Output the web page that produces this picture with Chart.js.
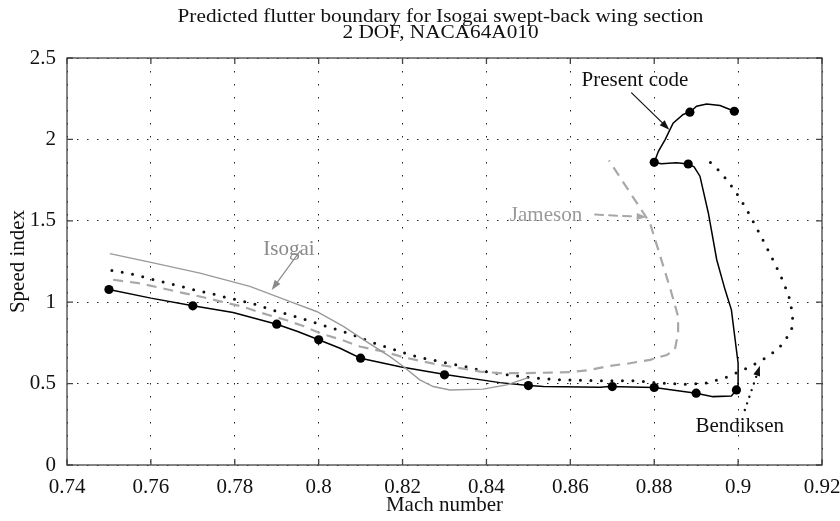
<!DOCTYPE html>
<html>
<head>
<meta charset="utf-8">
<title>Predicted flutter boundary</title>
<script src="https://cdn.jsdelivr.net/npm/chart.js@4.4.0/dist/chart.umd.min.js"></script>
<style>
    html, body { margin: 0; padding: 0; background: #fff; }
    #wrap { width: 840px; height: 521px; }
</style>
</head>
<body>
<div id="wrap"><canvas id="flutterChart" width="840" height="521"></canvas></div>
<script>
// Speed index vs Mach number
const xTicks = [0.74, 0.76, 0.78, 0.8, 0.82, 0.84, 0.86, 0.88, 0.9, 0.92];
const yTicks = [0, 0.5, 1, 1.5, 2, 2.5];
const titleLines = ['Predicted flutter boundary for Isogai swept-back wing section', '2 DOF, NACA64A010'];

// present code (solid black line, dots at computed points)
const presentMach = [0.75, 0.76, 0.77, 0.7796, 0.79, 0.795, 0.80, 0.8051, 0.81, 0.8194, 0.8305, 0.8432, 0.85, 0.8536,
    0.8671, 0.8693, 0.88, 0.89, 0.894, 0.8984, 0.8996, 0.90, 0.90, 0.8992, 0.8984, 0.8969, 0.8949, 0.8929, 0.8909,
    0.8895, 0.8881, 0.8853, 0.8817, 0.88, 0.881, 0.8826, 0.8845, 0.8869, 0.8885, 0.8901, 0.8925, 0.8957, 0.8991];
const presentSpeed = [1.078, 1.025, 0.978, 0.937, 0.865, 0.82, 0.769, 0.717, 0.656, 0.603, 0.554, 0.506, 0.488, 0.482,
    0.478, 0.482, 0.476, 0.441, 0.42, 0.424, 0.461, 0.492, 0.625, 0.789, 0.953, 1.076, 1.261, 1.548, 1.774,
    1.831, 1.849, 1.856, 1.851, 1.859, 1.927, 1.999, 2.1, 2.153, 2.167, 2.204, 2.218, 2.208, 2.173];
const presentMarkMach = [0.75, 0.77, 0.79, 0.80, 0.81, 0.83, 0.85, 0.87, 0.88, 0.89, 0.8996, 0.8881, 0.88, 0.8885, 0.8991];
const presentMarkSpeed = [1.078, 0.978, 0.865, 0.769, 0.656, 0.554, 0.488, 0.482, 0.476, 0.441, 0.461, 1.849, 1.859, 2.167, 2.173];

// Bendiksen (dotted black)
const bendMach = [0.7507, 0.7554, 0.7602, 0.765, 0.7697, 0.7745, 0.7793, 0.784, 0.7888, 0.7936, 0.7983, 0.8027,
    0.8075, 0.8122, 0.817, 0.8218, 0.8261, 0.8309, 0.8357, 0.8404, 0.8452, 0.85, 0.8575, 0.8671, 0.875, 0.8821,
    0.8869, 0.8921, 0.8966, 0.9012, 0.9056, 0.9096, 0.9126, 0.9131, 0.9125, 0.9108, 0.9087, 0.9065, 0.9042,
    0.9018, 0.8991, 0.896, 0.8925];
const bendSpeed = [1.195, 1.173, 1.142, 1.111, 1.08, 1.052, 1.021, 0.994, 0.953, 0.918, 0.881, 0.845,
    0.806, 0.758, 0.717, 0.677, 0.65, 0.625, 0.601, 0.57, 0.554, 0.538, 0.523, 0.518, 0.518, 0.502,
    0.496, 0.502, 0.533, 0.584, 0.642, 0.713, 0.816, 0.877, 1.004, 1.125, 1.24, 1.353, 1.466,
    1.581, 1.691, 1.794, 1.88];

// Isogai (thin grey solid)
const isogaiMach = [0.7502, 0.76, 0.7717, 0.7836, 0.7932, 0.7995, 0.8059, 0.8114, 0.817, 0.8202, 0.8241,
    0.8273, 0.8313, 0.8392, 0.8448, 0.85];
const isogaiSpeed = [1.298, 1.245, 1.179, 1.097, 1.004, 0.943, 0.851, 0.758, 0.666, 0.605, 0.523,
    0.482, 0.461, 0.466, 0.492, 0.537];

// Jameson (grey dashed)
const jamesonMach = [0.751, 0.757, 0.762, 0.767, 0.7717, 0.7765, 0.7817, 0.7865, 0.792, 0.7965, 0.8003, 0.8059,
    0.8098, 0.8154, 0.8202, 0.825, 0.8289, 0.8337, 0.8385, 0.8432, 0.8496, 0.8551, 0.8599, 0.8647, 0.8694,
    0.8742, 0.879, 0.883, 0.8849, 0.8857, 0.8857, 0.8839, 0.879, 0.8692];
const jamesonSpeed = [1.138, 1.117, 1.09, 1.06, 1.035, 1.005, 0.974, 0.933, 0.892, 0.852, 0.81, 0.765,
    0.728, 0.697, 0.662, 0.635, 0.615, 0.595, 0.574, 0.564, 0.564, 0.568, 0.57, 0.584, 0.609,
    0.625, 0.646, 0.676, 0.707, 0.81, 0.912, 1.076, 1.486, 1.871];

// labels and arrows, in chart units
const notes = [
    { text: 'Present code', at: [0.8754, 2.327], color: '#111' },
    { text: 'Jameson', at: [0.8542, 1.496], color: '#9a9a9a' },
    { text: 'Isogai', at: [0.7929, 1.2915], color: '#8a8a8a' },
    { text: 'Bendiksen', at: [0.9004, 0.205], color: '#111' }
];
const arrows = [
    { from: [0.8746, 2.286], to: [0.8836, 2.06], color: '#111', width: 1.2, dash: [] },
    { from: [0.8659, 1.538], to: [0.8782, 1.523], color: '#a8a8a8', width: 2, dash: [8, 6] },
    { from: [0.7955, 1.312], to: [0.7888, 1.075], color: '#8a8a8a', width: 1.2, dash: [] },
    { from: [0.9016, 0.338], to: [0.9052, 0.609], color: '#111', width: 2.4, dash: [0, 7] }
];

const SERIF = "'Liberation Serif', 'Times New Roman', serif";

function pts(xs, ys) { return xs.map((x, i) => ({ x: x, y: ys[i] })); }

const annotate = {
    id: 'annotate',
    afterDatasetsDraw(chart) {
        const ctx = chart.ctx, sx = chart.scales.x, sy = chart.scales.y;
        const px = p => [sx.getPixelForValue(p[0]), sy.getPixelForValue(p[1])];
        ctx.save();

        // arrows
        arrows.forEach(a => {
            const [x0, y0] = px(a.from), [x1, y1] = px(a.to);
            const ang = Math.atan2(y1 - y0, x1 - x0);
            const hl = 10, hw = 3.5;
            const bx = x1 - hl * Math.cos(ang), by = y1 - hl * Math.sin(ang);
            ctx.strokeStyle = a.color;
            ctx.fillStyle = a.color;
            ctx.lineWidth = a.width;
            ctx.lineCap = 'round';
            ctx.setLineDash(a.dash);
            ctx.beginPath();
            ctx.moveTo(x0, y0);
            ctx.lineTo(bx, by);
            ctx.stroke();
            ctx.setLineDash([]);
            ctx.beginPath();
            ctx.moveTo(x1, y1);
            ctx.lineTo(bx - hw * Math.sin(ang), by + hw * Math.cos(ang));
            ctx.lineTo(bx + hw * Math.sin(ang), by - hw * Math.cos(ang));
            ctx.closePath();
            ctx.fill();
        });

        // text labels
        ctx.font = '21px ' + SERIF;
        ctx.textAlign = 'center';
        ctx.textBaseline = 'alphabetic';
        notes.forEach(n => {
            const [x, y] = px(n.at);
            ctx.fillStyle = n.color;
            ctx.fillText(n.text, x, y);
        });
        ctx.restore();
    },
    afterDraw(chart) {
        const ctx = chart.ctx, a = chart.chartArea, sx = chart.scales.x, sy = chart.scales.y;
        const len = 6;
        ctx.save();

        // frame and inward tick marks
        ctx.strokeStyle = '#444';
        ctx.lineWidth = 1.3;
        ctx.beginPath();
        xTicks.forEach(v => {
            const x = sx.getPixelForValue(v);
            ctx.moveTo(x, a.bottom); ctx.lineTo(x, a.bottom - len);
            ctx.moveTo(x, a.top); ctx.lineTo(x, a.top + len);
        });
        yTicks.forEach(v => {
            const y = sy.getPixelForValue(v);
            ctx.moveTo(a.left, y); ctx.lineTo(a.left + len, y);
            ctx.moveTo(a.right, y); ctx.lineTo(a.right - len, y);
        });
        ctx.stroke();
        ctx.strokeRect(a.left, a.top, a.right - a.left, a.bottom - a.top);

        // title, a bit wider than plain Times like the original
        const cx = (a.left + a.right) / 2 - 4;
        ctx.fillStyle = '#111';
        ctx.font = '19.5px ' + SERIF;
        ctx.textAlign = 'center';
        ctx.textBaseline = 'alphabetic';
        titleLines.forEach((t, i) => {
            ctx.save();
            ctx.translate(cx, 22 + i * 16);
            ctx.scale(1.09, 1);
            ctx.fillText(t, 0, 0);
            ctx.restore();
        });
        ctx.restore();
    }
};

Chart.defaults.font.family = SERIF;
Chart.defaults.color = '#111';

new Chart(document.getElementById('flutterChart').getContext('2d'), {
    type: 'scatter',
    data: {
        datasets: [
            {
                label: 'Isogai',
                data: pts(isogaiMach, isogaiSpeed),
                showLine: true,
                borderColor: '#9a9a9a',
                borderWidth: 1.4,
                pointRadius: 0,
                tension: 0
            },
            {
                label: 'Jameson',
                data: pts(jamesonMach, jamesonSpeed),
                showLine: true,
                borderColor: '#a8a8a8',
                borderWidth: 2.2,
                borderDash: [10, 7],
                pointRadius: 0,
                tension: 0
            },
            {
                label: 'Bendiksen',
                data: pts(bendMach, bendSpeed),
                showLine: true,
                borderColor: '#111',
                borderWidth: 3,
                borderDash: [0, 10.5],
                borderCapStyle: 'round',
                pointRadius: 0,
                tension: 0
            },
            {
                label: 'Present code',
                data: pts(presentMach, presentSpeed),
                showLine: true,
                borderColor: '#000',
                borderWidth: 1.5,
                pointRadius: 0,
                tension: 0
            },
            {
                label: 'Present code points',
                data: pts(presentMarkMach, presentMarkSpeed),
                showLine: false,
                pointRadius: 4.6,
                pointBackgroundColor: '#000',
                pointBorderColor: '#000',
                pointBorderWidth: 0
            }
        ]
    },
    options: {
        responsive: false,
        animation: false,
        events: [],
        layout: { padding: { left: 0, right: 0, top: 58, bottom: 0 } },
        plugins: {
            legend: { display: false },
            tooltip: { enabled: false },
            title: { display: false }
        },
        scales: {
            x: {
                type: 'linear',
                min: 0.74,
                max: 0.92,
                afterBuildTicks: s => { s.ticks = xTicks.map(v => ({ value: v })); },
                afterFit: s => { s.height = 56; s.paddingLeft = 0; s.paddingRight = 18; },
                ticks: {
                    font: { size: 21 },
                    color: '#111',
                    padding: 10,
                    maxRotation: 0,
                    callback: v => String(parseFloat(v.toFixed(2)))
                },
                grid: { color: '#222', lineWidth: 1, drawTicks: false },
                border: { display: false, dash: [1.5, 11.5] },
                title: { display: true, text: 'Mach number', font: { size: 21 }, color: '#111', padding: { top: 4, bottom: 3 } }
            },
            y: {
                type: 'linear',
                min: 0,
                max: 2.5,
                afterBuildTicks: s => { s.ticks = yTicks.map(v => ({ value: v })); },
                afterFit: s => { s.width = 67; },
                ticks: {
                    font: { size: 21 },
                    color: '#111',
                    padding: 11,
                    callback: v => String(v)
                },
                grid: { color: '#222', lineWidth: 1, drawTicks: false },
                border: { display: false, dash: [1.5, 8.5] },
                title: { display: true, text: 'Speed index', font: { size: 21 }, color: '#111', padding: { top: 6, bottom: 4 } }
            }
        }
    },
    plugins: [annotate]
});
</script>
</body>
</html>
